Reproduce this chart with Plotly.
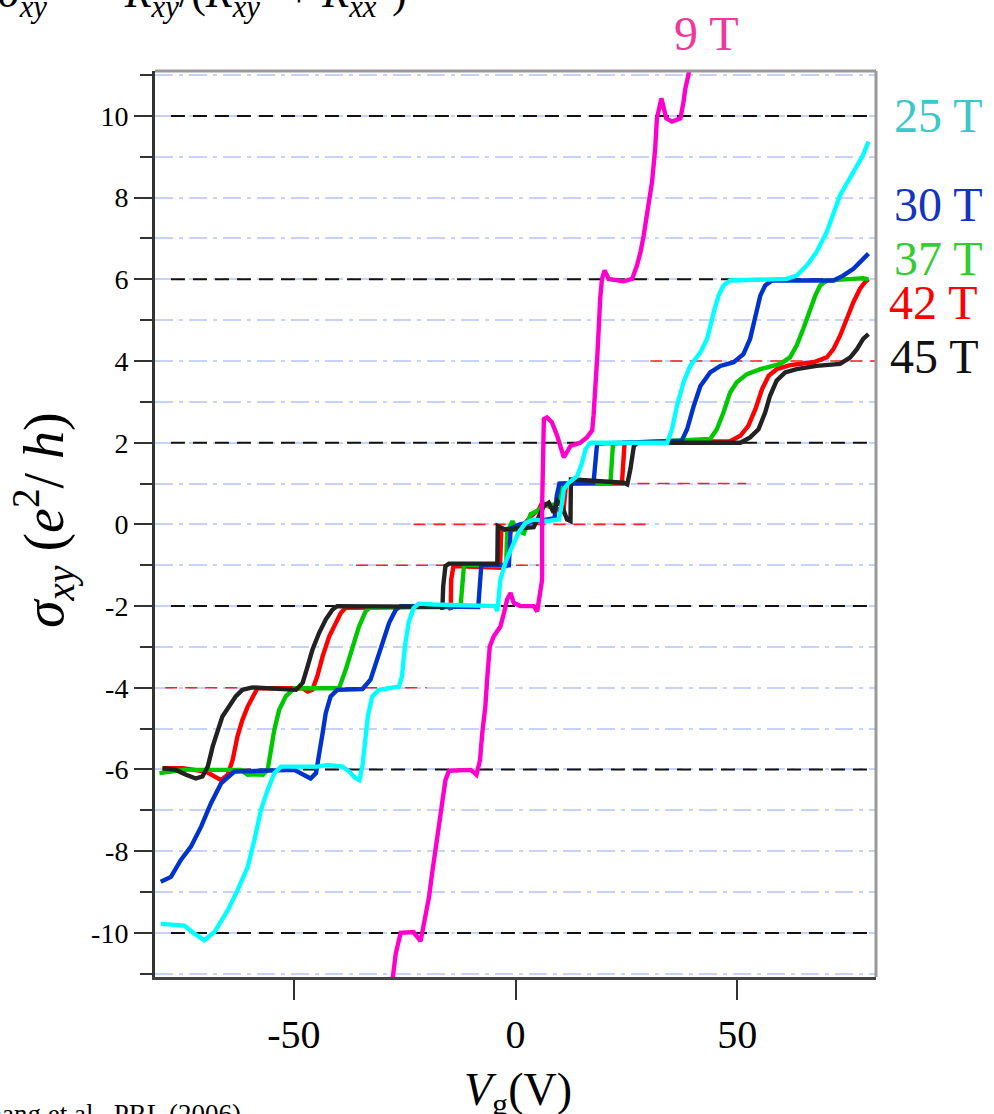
import plotly.graph_objects as go

# ---------------- data ----------------
x_9T = [-27.9, -27.0, -25.9, -23.0, -21.4, -20.6, -19.5, -18.8, -18.0, -17.3, -16.5, -15.8, -15.0,
        -10.1, -8.8, -8.0, -7.5, -6.8, -6.4, -5.8, -4.9, -3.4, -2.6, -1.9, -1.1, -0.4, 1.1, 4.1, 4.9,
        5.6, 6.0, 6.0, 6.4, 7.1, 8.2, 9.4, 10.9, 12.4, 14.6, 16.1, 17.3, 17.6, 18.0, 18.5, 19.1, 19.5,
        20.1, 21.0, 24.4, 26.3, 27.4, 28.2, 28.9, 29.7, 30.3, 30.8, 31.5, 31.9, 32.9, 34.0, 35.3, 37.2,
        37.9, 38.3, 39.0, 39.4]
y_9T = [-11.3, -10.5, -10.0, -9.98, -10.2, -9.77, -9.12, -8.54, -7.9, -7.3, -6.75, -6.26, -6.03,
        -6.01, -6.13, -5.77, -5.11, -4.46, -3.80, -2.99, -2.74, -2.50, -2.17, -1.84, -1.68, -1.92, -2.0,
        -2.0, -2.13, -1.68, -1.35, 0.44, 2.58, 2.62, 2.5, 2.17, 1.64, 1.92, 2.0, 2.13, 2.3, 2.66, 3.23,
        4.21, 5.52, 6.01, 6.22, 6.01, 5.95, 6.01, 6.34, 6.67, 7.07, 7.57, 7.98, 8.39, 9.2, 9.94, 10.43,
        9.94, 9.86, 9.94, 10.35, 10.67, 11.0, 11.3]

x_25T = [-80.0, -74.7, -72.4, -70.2, -67.9, -64.9, -62.7, -60.4, -58.9, -57.4, -55.9, -54.4, -52.9,
         -44.7, -42.4, -39.0, -37.5, -36.2, -35.2, -34.5, -33.9, -33.3, -32.3, -30.8, -28.5, -26.3,
         -25.6, -24.9, -24.1, -23.0, -21.8, -18.4, -4.6, -4.1, -3.4, -2.3, -0.7, 0.7, 2.3, 4.1, 7.1,
         9.8, 10.5, 10.9, 12.0, 13.9, 15.0, 15.8, 16.9, 25.9, 34.2, 35.3, 36.4, 37.9, 39.4, 41.7, 43.2,
         44.7, 45.8, 46.9, 48.4, 61.2, 63.4, 65.7, 67.9, 70.2, 71.7, 73.2, 75.1, 77.0, 78.4, 79.6]
y_25T = [-9.78, -9.82, -10.02, -10.18, -9.98, -9.45, -8.96, -8.39, -7.73, -6.99, -6.50, -6.09, -5.93,
         -5.93, -5.89, -5.93, -6.05, -6.2, -6.26, -5.9, -5.3, -4.7, -4.21, -4.05, -4.01, -3.97,
         -3.72, -2.95, -2.4, -2.05, -1.94, -1.96, -2.0, -2.12, -1.35, -0.94, -0.53, -0.2, 0.04, 0.12, 0.08,
         0.12, 0.53, 0.86, 1.02, 1.18, 1.51, 1.84, 2.0, 2.0, 2.0, 2.33, 2.9, 3.48, 3.88, 4.21, 4.54,
         5.19, 5.6, 5.85, 5.97, 6.01, 6.09, 6.34, 6.67, 7.16, 7.65, 8.06, 8.42, 8.79, 9.04, 9.37]

x_30T = [-80.0, -77.7, -75.5, -73.2, -70.9, -68.7, -66.4, -63.4, -49.9, -47.7, -46.2, -45.0, -44.3,
         -43.5, -42.8, -41.7, -40.2, -34.5, -32.7, -31.5, -30.0, -28.5, -27.0, -25.9, -8.4, -8.1, -7.7,
         -1.5, -1.1, 1.0, 4.0, 7.0, 8.8, 9.3, 9.9, 17.6, 18.0, 18.4, 37.5, 38.7, 40.2, 41.7, 43.9, 46.2,
         49.2, 51.4, 52.9, 54.1, 55.2, 56.3, 57.8, 71.7, 73.9, 76.2, 78.4, 79.6]
y_30T = [-8.75, -8.63, -8.22, -7.89, -7.40, -6.83, -6.34, -6.05, -6.01, -6.13, -6.22, -6.09, -5.68,
         -5.11, -4.62, -4.21, -4.05, -4.03, -3.80, -3.39, -2.90, -2.41, -2.09, -2.0, -2.02, -1.5, -0.98,
         -1.0, -0.1, 0.0, 0.05, 0.1, 0.15, 0.7, 1.0, 1.02, 1.5, 1.98, 2.05, 2.33, 2.90, 3.39, 3.72, 3.88,
         3.97, 4.17, 4.54, 5.11, 5.60, 5.85, 5.97, 5.97, 6.09, 6.26, 6.50, 6.63]

x_37T = [-80.3, -74.7, -61.9, -60.4, -58.6, -57.0, -55.9, -55.2, -54.4, -53.3, -51.8, -49.9, -39.8,
         -38.3, -36.8, -35.3, -33.8, -32.7, -12.4, -12.0, -11.6, -2.1, -1.9, -0.7, 0.4, 1.9, 3.4, 4.9,
         6.4, 9.5, 10.1, 10.4, 21.4, 21.7, 22.0, 43.9, 45.4, 46.9, 48.4, 49.9, 52.2, 55.2, 59.7, 61.9,
         63.4, 64.9, 66.4, 67.6, 68.7, 70.2, 78.4, 79.6]
y_37T = [-6.09, -6.01, -6.01, -6.13, -6.12, -6.13, -6.01, -5.6, -5.03, -4.54, -4.21, -4.01, -4.01,
         -3.56, -2.99, -2.50, -2.13, -2.02, -2.02, -1.4, -0.98, -1.02, -0.2, 0.08, -0.15, -0.22, 0.25, 0.33,
         0.45, 0.5, 0.6, 1.0, 1.0, 1.5, 1.98, 2.09, 2.33, 2.74, 3.23, 3.48, 3.68, 3.80, 3.93, 4.09,
         4.38, 4.79, 5.28, 5.60, 5.85, 5.97, 6.03, 6.0]

x_42T = [-79.6, -75.1, -69.8, -67.9, -66.4, -64.9, -63.8, -62.7, -61.6, -60.4, -59.3, -58.2, -48.0,
         -46.9, -45.8, -44.7, -43.5, -42.0, -40.5, -39.4, -38.3, -14.9, -14.6, -14.5, -14.0, -3.5, -3.2,
         -1.1, 1.5, 3.5, 5.3, 6.0, 7.1, 9.0, 10.8, 11.1, 11.4, 24.0, 24.3, 24.6, 48.4, 50.7, 52.5, 54.1,
         55.6, 57.1, 58.9, 61.9, 67.2, 70.2, 71.7, 73.2, 74.7, 76.2, 77.7, 78.8, 79.6]
y_42T = [-5.97, -5.97, -6.05, -6.17, -6.26, -6.13, -5.77, -5.19, -4.79, -4.46, -4.21, -4.01, -4.01,
         -4.09, -4.05, -3.72, -3.23, -2.74, -2.41, -2.17, -2.04, -2.02, -2.09, -1.35, -1.02, -1.06, -0.12,
         -0.16, -0.05, 0.2, 0.37, 0.53, 0.45, 0.4, 0.3, 0.6, 1.0, 1.0, 1.5, 2.0, 2.04, 2.17, 2.41, 2.82,
         3.31, 3.64, 3.80, 3.90, 3.97, 4.09, 4.29, 4.62, 5.03, 5.44, 5.77, 5.93, 6.0]

x_45T = [-79.6, -76.6, -74.3, -72.1, -70.6, -69.4, -68.3, -67.2, -66.1, -64.6, -63.1, -61.6, -59.3,
         -49.5, -48.0, -46.9, -45.8, -44.3, -42.8, -41.3, -40.2, -16.6, -16.5, -16.3, -15.8, -15.0, -4.1,
         -4.0, -2.5, 0.5, 4.1, 5.3, 6.4, 7.5, 8.6, 9.4, 10.5, 11.6, 12.4, 12.5, 13.1, 24.4, 25.2, 25.9,
         26.7, 27.5, 50.7, 52.9, 54.8, 56.3, 57.4, 58.9, 60.8, 63.4, 67.9, 73.2, 75.5, 77.0, 78.4, 79.6]
y_45T = [-5.97, -6.01, -6.13, -6.22, -6.17, -5.93, -5.44, -5.03, -4.70, -4.46, -4.21, -4.05, -3.99,
         -4.05, -3.88, -3.48, -3.07, -2.66, -2.33, -2.09, -2.0, -2.02, -2.09, -1.51, -1.02, -0.96, -0.96,
         -0.04, -0.12, -0.1, -0.07, 0.2, 0.45, 0.53, 0.29, 0.57, 0.45, 0.12, 0.08, 1.1, 1.1, 1.02, 0.98,
         1.35, 1.92, 2.0, 2.0, 2.13, 2.33, 2.74, 3.15, 3.52, 3.72, 3.80, 3.88, 3.93, 4.09, 4.29, 4.54, 4.66]

series_names = ["42 T", "37 T", "30 T", "45 T", "25 T", "9 T"]
series_x = [x_42T, x_37T, x_30T, x_45T, x_25T, x_9T]
series_y = [y_42T, y_37T, y_30T, y_45T, y_25T, y_9T]
series_colors = ["#ff0000", "#00c800", "#0033cc", "#222222", "#00ffff", "#ff00cc"]

# black dashed integer-plateau guide lines
black_levels = [-10, -6, -2, 2, 6, 10]
black_x_span = [-77.7, 80.0]
# red dashed guide segments: level, start, end
red_levels = [4, 1, 0, -1, -4]
red_x_start = [30.4, 9.5, -23.0, -36.0, -79.0]
red_x_end = [81.8, 52.0, 30.4, 5.2, -20.0]

y_major_ticks = [-10, -8, -6, -4, -2, 0, 2, 4, 6, 8, 10]
y_major_labels = ["-10", "-8", "-6", "-4", "-2", "0", "2", "4", "6", "8", "10"]
y_minor_ticks = [-11, -9, -7, -5, -3, -1, 1, 3, 5, 7, 9, 11]
x_ticks = [-50, 0, 50]
x_labels = ["-50", "0", "50"]

labels_text = ["9 T", "25 T", "30 T", "37 T", "42 T", "45 T"]
labels_color = ["#f0389c", "#3cc8c8", "#1433c0", "#33cc33", "#ff0000", "#111111"]
labels_px = [(672, 33), (892, 115), (892, 205), (892, 258), (887, 302), (888, 356)]

# ---------------- figure ----------------
W, H = 994, 1114
L, R, T, B = 155, 118, 71, 137
pw, ph = W - L - R, H - T - B
SERIF = "Liberation Serif, Times New Roman, serif"

def px2paper(px, py):
    return (px - L) / pw, (H - B - py) / ph

fig = go.Figure()

for lv in black_levels:
    fig.add_trace(go.Scatter(x=black_x_span, y=[lv, lv], mode="lines",
                             line=dict(color="#111111", width=2, dash="14px,8px"),
                             hoverinfo="skip", showlegend=False))
for lv, xs, xe in zip(red_levels, red_x_start, red_x_end):
    fig.add_trace(go.Scatter(x=[xs, xe], y=[lv, lv], mode="lines",
                             line=dict(color="#ff2020", width=1.6, dash="12px,8px"),
                             hoverinfo="skip", showlegend=False))

for name, xs, ys, c in zip(series_names, series_x, series_y, series_colors):
    fig.add_trace(go.Scatter(x=xs, y=ys, mode="lines", name=name,
                             line=dict(color=c, width=4.4), showlegend=False))

annotations = []
for t, c, (lx, ly) in zip(labels_text, labels_color, labels_px):
    ax, ay = px2paper(lx, ly)
    annotations.append(dict(x=ax, y=ay, xref="paper", yref="paper", text=t, showarrow=False,
                            xanchor="left", yanchor="middle",
                            font=dict(family=SERIF, size=48, color=c)))

# clipped formula at the top
tx, ty = px2paper(409, 26)
annotations.append(dict(x=tx, y=ty, xref="paper", yref="paper", showarrow=False,
                        xanchor="right", yanchor="bottom",
                        text="<i>σ</i><sub><i>xy</i></sub>=\u2003\u2009<i>R</i><sub><i>xy</i></sub>/(<i>R</i><sub><i>xy</i></sub><sup>2</sup> + <i>R</i><sub><i>xx</i></sub><sup>2</sup>)",
                        font=dict(family=SERIF, size=44, color="#000000")))
# citation at bottom-left (clipped)
cx, cy = px2paper(-30, 1097)
annotations.append(dict(x=cx, y=cy, xref="paper", yref="paper", showarrow=False,
                        xanchor="left", yanchor="top", text="Zhang et al., PRL (2006)",
                        font=dict(family=SERIF, size=27, color="#000000")))
# axis titles
xx, xy = px2paper(518, 1062)
annotations.append(dict(x=xx, y=xy, xref="paper", yref="paper", showarrow=False,
                        xanchor="center", yanchor="top", text="<i>V</i><sub>g</sub>(V)",
                        font=dict(family=SERIF, size=46, color="#000000")))
yx, yy = px2paper(43, 520)
annotations.append(dict(x=yx, y=yy, xref="paper", yref="paper", showarrow=False,
                        xanchor="center", yanchor="middle", textangle=-90,
                        text="<i>σ</i><sub><i>xy</i></sub> (<i>e</i><sup>2</sup>/ <i>h</i>)",
                        font=dict(family=SERIF, size=56, color="#000000")))

grid_c = "#c6d2fb"
fig.update_layout(
    width=W, height=H, margin=dict(l=L, r=R, t=T, b=B, pad=0),
    paper_bgcolor="white", plot_bgcolor="white",
    showlegend=False, annotations=annotations,
    xaxis=dict(range=[-81.3, 81.3], tickmode="array", tickvals=x_ticks, ticktext=x_labels,
               ticks="outside", ticklen=20, tickwidth=2, tickcolor="#333333",
               showline=True, linecolor="#444444", linewidth=3, showgrid=False, zeroline=False,
               tickfont=dict(family=SERIF, size=40, color="#000000")),
    yaxis=dict(range=[-11.08, 11.1], tickmode="array", tickvals=y_major_ticks, ticktext=y_major_labels,
               ticks="outside", ticklen=18, tickwidth=2, tickcolor="#333333",
               showline=True, linecolor="#333333", linewidth=3, zeroline=False,
               showgrid=True, gridcolor=grid_c, gridwidth=2, griddash="18px,6px,4px,6px",
               tickfont=dict(family=SERIF, size=28, color="#000000"),
               minor=dict(tickmode="array", tickvals=y_minor_ticks, ticks="outside", ticklen=12,
                          tickwidth=2, tickcolor="#333333", showgrid=True, gridcolor=grid_c,
                          gridwidth=2, griddash="18px,6px,4px,6px")),
    shapes=[
        dict(type="line", xref="paper", yref="paper", x0=0, x1=1, y0=1, y1=1,
             line=dict(color="#999999", width=3)),
        dict(type="line", xref="paper", yref="paper", x0=1, x1=1, y0=0, y1=1,
             line=dict(color="#999999", width=3)),
    ],
)

fig.write_html("out.html")
